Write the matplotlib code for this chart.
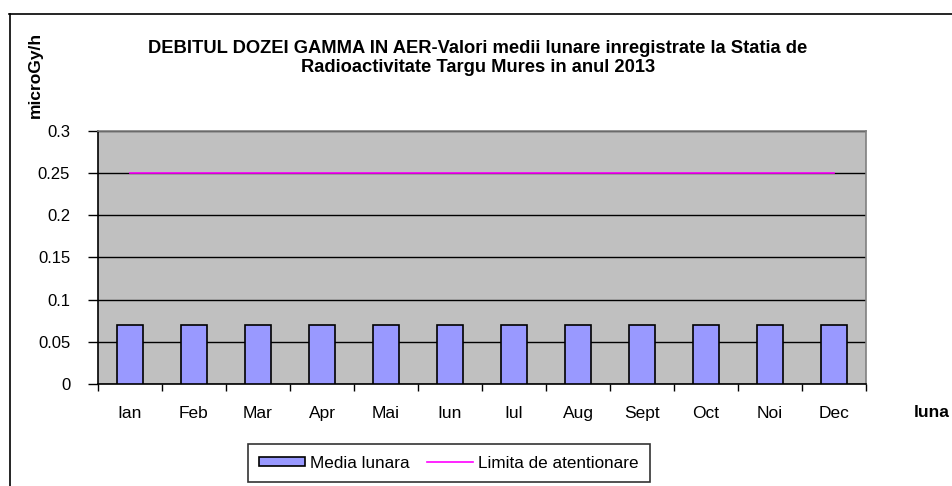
import numpy as np
import matplotlib
matplotlib.use("Agg")
from matplotlib import pyplot as plt
from matplotlib.lines import Line2D

plt.rcParams['font.family'] = ['Liberation Sans', 'DejaVu Sans']

luni = ['Ian', 'Feb', 'Mar', 'Apr', 'Mai', 'Iun', 'Iul', 'Aug', 'Sept', 'Oct', 'Noi', 'Dec']
media = [0.07, 0.07, 0.07, 0.07, 0.07, 0.07, 0.07, 0.07, 0.07, 0.07, 0.07, 0.07]
limita = [0.25, 0.25, 0.25, 0.25, 0.25, 0.25, 0.25, 0.25, 0.25, 0.25, 0.25, 0.25]
yticks = [0, 0.05, 0.1, 0.15, 0.2, 0.25, 0.3]

fig = plt.figure(figsize=(9.52, 4.86), dpi=100)
ax = fig.add_axes([0.1029, 0.2099, 0.8068, 0.5206])
ax.set_facecolor('#C0C0C0')

x = np.arange(len(luni))
ax.set_axisbelow(True)
ax.yaxis.grid(True, color='black', linewidth=1)
bars = ax.bar(x, media, width=0.4, color='#9999FF', edgecolor='black', linewidth=1.2,
              label='Media lunara', zorder=3)
line, = ax.plot(x, limita, color='#FF00FF', linewidth=1.2, label='Limita de atentionare', zorder=4)

ax.set_xlim(-0.5, 11.5)
ax.set_ylim(0, 0.3)
ax.set_yticks(yticks)
ax.set_yticklabels(['0', '0.05', '0.1', '0.15', '0.2', '0.25', '0.3'], fontsize=12)
ax.set_xticks(np.arange(-0.5, 12, 1))
ax.set_xticklabels([])
ax.set_xticks(x, minor=True)
ax.set_xticklabels(luni, minor=True, fontsize=12.5)
ax.tick_params(axis='x', which='major', length=5, width=1, direction='out')
ax.tick_params(axis='x', which='minor', length=0, pad=16)
ax.tick_params(axis='y', length=7, width=1, pad=13)

for s in ['left', 'bottom']:
    ax.spines[s].set_color('black')
    ax.spines[s].set_linewidth(1.2)
for s in ['top', 'right']:
    ax.spines[s].set_color('#808080')
    ax.spines[s].set_linewidth(1.2)

fig.text(0.502, 0.881, 'DEBITUL DOZEI GAMMA IN AER-Valori medii lunare inregistrate la Statia de\n'
         'Radioactivitate Targu Mures in anul 2013', ha='center', va='center',
         fontsize=13.2, fontweight='bold', linespacing=1.15)
fig.text(0.037, 0.846, 'microGy/h', rotation=90, ha='center', va='center',
         fontsize=12.5, fontweight='bold')
fig.text(0.979, 0.152, 'luna', ha='center', va='center', fontsize=12.5, fontweight='bold')

leg = fig.legend([bars, line], ['Media lunara', 'Limita de atentionare'], loc='center',
                 bbox_to_anchor=(0.4716, 0.0473), ncol=2,
                 fontsize=12.3, frameon=True, fancybox=False, edgecolor='black',
                 handlelength=2.7, handleheight=0.5, handletextpad=0.3, columnspacing=1.0,
                 borderpad=0.65, borderaxespad=0)
leg.get_frame().set_linewidth(1.2)

# outer chart frame
fig.add_artist(Line2D([9.5 / 952, 9.5 / 952], [0, 1 - 14 / 486], transform=fig.transFigure,
                      color='black', linewidth=1.2))
fig.add_artist(Line2D([9 / 952, 1], [1 - 14.5 / 486, 1 - 14.5 / 486], transform=fig.transFigure,
                      color='black', linewidth=1.2))

fig.savefig('out.png', dpi=100)
